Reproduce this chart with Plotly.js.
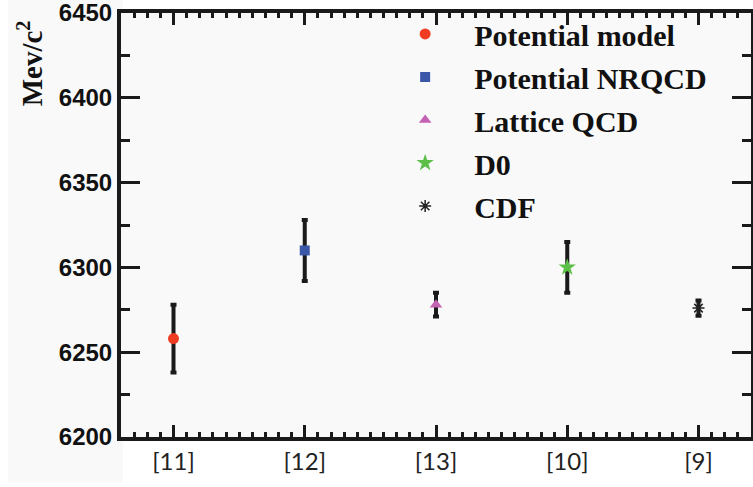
<!DOCTYPE html>
<html>
<head>
<meta charset="utf-8">
<script src="https://cdn.plot.ly/plotly-3.0.1.min.js"></script>
<style>html,body{margin:0;padding:0;background:#fff;}#chart{width:753px;height:487px;}</style>
</head>
<body>
<div id="chart"></div>
<script>
// Data
const refs = ['[11]', '[12]', '[13]', '[10]', '[9]'];
const names = ['Potential model', 'Potential NRQCD', 'Lattice QCD', 'D0', 'CDF'];
const mass = [6258, 6310, 6278, 6300, 6276];
const errs = [20, 18, 7, 15, 4.5];
const symbols = ['circle', 'square', 'triangle-up', 'star', 'asterisk-open'];
const colors = ['#f03c22', '#3b57a8', '#c462b4', '#5cbf48', '#222222'];
const sizes = [11, 10, 11, 13, 10];
const yTicks = [6200, 6250, 6300, 6350, 6400, 6450];
const yTitle = 'Mev/c<sup>2</sup>';

const traces = names.map((n, i) => ({
  type: 'scatter', mode: 'markers', name: n, legendgroup: 'g' + i,
  x: [i], y: [mass[i]],
  error_y: {type: 'data', array: [errs[i]], visible: true, color: '#1a1a1a', thickness: 4, width: 3},
  marker: {symbol: symbols[i], color: colors[i], size: sizes[i],
           line: {color: colors[i], width: symbols[i] === 'asterisk-open' ? 1.5 : 0}}
}));

// Category positions and the unlabeled half-way major ticks
const xTickVals = refs.map((r, i) => i);
const xHalfVals = refs.slice(1).map((r, i) => i + 0.5);

const layout = {
  width: 753, height: 487,
  margin: {l: 121, r: 2, t: 13, b: 50},
  paper_bgcolor: '#ffffff',
  plot_bgcolor: '#f9f9f9',
  showlegend: true,
  legend: {
    x: 0.405, y: 1.012, xanchor: 'left', yanchor: 'top',
    bgcolor: 'rgba(0,0,0,0)', itemwidth: 88, tracegroupgap: 1,
    font: {family: 'Liberation Serif, Times New Roman, serif', size: 30, color: '#111', weight: 'bold'}
  },
  shapes: [{type: 'rect', xref: 'paper', yref: 'paper', x0: -0.179, x1: 0.003, y0: -0.108, y1: 1.04,
            fillcolor: '#f9f9f9', line: {width: 0}, layer: 'below'}],
  annotations: [{
    text: yTitle, xref: 'paper', yref: 'paper', x: -0.144, y: 0.882,
    xanchor: 'center', yanchor: 'middle', textangle: -90, showarrow: false,
    font: {family: 'Liberation Serif, Times New Roman, serif', size: 29, color: '#111', weight: 'bold'}
  }],
  xaxis: {
    range: [-0.4, 4.4], tickmode: 'array', tickvals: xTickVals, ticktext: refs,
    ticks: 'inside', ticklen: 12, tickwidth: 3, tickcolor: '#1a1a1a',
    showline: true, linewidth: 4, linecolor: '#1a1a1a', mirror: 'allticks',
    showgrid: false, zeroline: false,
    minor: {tickmode: 'linear', tick0: 0, dtick: 0.1, ticks: 'inside', ticklen: 5, tickwidth: 3, tickcolor: '#1a1a1a', showgrid: false},
    tickfont: {family: 'Lato, Open Sans, sans-serif', size: 24, color: '#222'}
  },
  xaxis2: {
    overlaying: 'x', anchor: 'y', side: 'bottom', range: [-0.4, 4.4],
    tickmode: 'array', tickvals: xHalfVals, showticklabels: false,
    ticks: 'inside', ticklen: 12, tickwidth: 3, tickcolor: '#1a1a1a',
    showline: false, mirror: 'allticks', showgrid: false, zeroline: false
  },
  yaxis: {
    range: [6199.99, 6450.01], tickmode: 'array', tickvals: yTicks,
    ticklabeloverflow: 'allow',
    ticks: 'inside', ticklen: 19, tickwidth: 3, tickcolor: '#1a1a1a',
    showline: true, linewidth: 4, linecolor: '#1a1a1a', mirror: 'allticks',
    showgrid: false, zeroline: false,
    minor: {tickmode: 'linear', tick0: 6200, dtick: 25, ticks: 'inside', ticklen: 9, tickwidth: 3, tickcolor: '#1a1a1a', showgrid: false},
    tickfont: {family: 'Liberation Sans, Arial, sans-serif', size: 24, color: '#111', weight: 'bold'}
  }
};

Plotly.newPlot('chart', traces, layout, {displayModeBar: false, staticPlot: true});
</script>
</body>
</html>
